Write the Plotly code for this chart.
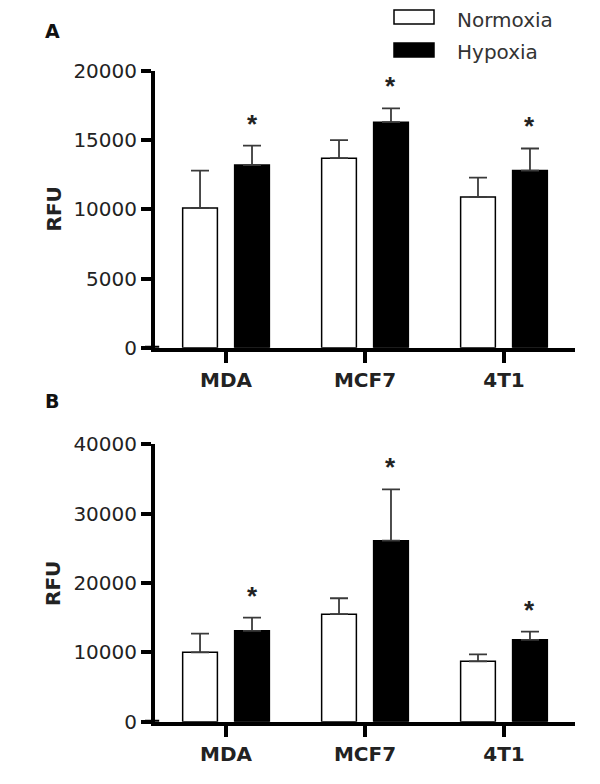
import plotly.graph_objects as go

categories = ["MDA", "MCF7", "4T1"]
series_names = ["Normoxia", "Hypoxia"]

# Panel A
a_normoxia = [10100, 13700, 10900]
a_normoxia_err = [2700, 1300, 1400]
a_hypoxia = [13200, 16300, 12800]
a_hypoxia_err = [1400, 1000, 1600]
a_sig = [True, True, True]
a_ticks = [0, 5000, 10000, 15000, 20000]

# Panel B
b_normoxia = [10000, 15500, 8700]
b_normoxia_err = [2700, 2300, 1000]
b_hypoxia = [13100, 26100, 11800]
b_hypoxia_err = [1900, 7400, 1200]
b_sig = [True, True, True]
b_ticks = [0, 10000, 20000, 30000, 40000]

W, H = 600, 784
FONT = "DejaVu Sans, Verdana, sans-serif"
STAR_FONT = "Arial, Liberation Sans, sans-serif"
xpos = list(range(len(categories)))

def px(x):
    return x / W

def py(y):
    return 1 - y / H

fig = go.Figure()

def add_panel(xa, ya, norm, norm_err, hyp, hyp_err):
    fig.add_trace(go.Bar(
        x=xpos, y=norm, name=series_names[0], width=0.25, offset=-0.312,
        marker=dict(color="white", line=dict(color="black", width=1.5)),
        error_y=dict(type="data", array=norm_err, arrayminus=[0]*len(norm),
                     symmetric=False, color="#3a3a3a", thickness=1.8, width=9),
        xaxis=xa, yaxis=ya, showlegend=False))
    fig.add_trace(go.Bar(
        x=xpos, y=hyp, name=series_names[1], width=0.25, offset=0.062,
        marker=dict(color="black", line=dict(color="black", width=1.5)),
        error_y=dict(type="data", array=hyp_err, arrayminus=[0]*len(hyp),
                     symmetric=False, color="#3a3a3a", thickness=1.8, width=9),
        xaxis=xa, yaxis=ya, showlegend=False))

add_panel("x", "y", a_normoxia, a_normoxia_err, a_hypoxia, a_hypoxia_err)
add_panel("x2", "y2", b_normoxia, b_normoxia_err, b_hypoxia, b_hypoxia_err)

X0, X1 = 155, 575
xdom = [px(X0), px(X1)]
ydomA = [py(347.7), py(71)]
ydomB = [py(721.7), py(444.3)]

def xaxis_cfg(anchor):
    return dict(domain=xdom, range=[-0.511, 2.511], anchor=anchor, automargin=False,
                tickmode="array", tickvals=xpos, ticktext=categories,
                showline=True, linecolor="black", linewidth=4,
                ticks="outside", ticklen=11, tickwidth=4, tickcolor="black",
                tickfont=dict(family=FONT, size=20, color="#222", weight="bold"),
                showgrid=False, zeroline=False, fixedrange=True)

def yaxis_cfg(anchor, dom, ticks):
    return dict(domain=dom, range=[0, ticks[-1]], anchor=anchor, automargin=False,
                tickmode="array", tickvals=ticks, ticktext=[str(t) for t in ticks],
                showline=True, linecolor="black", linewidth=4,
                ticks="outside", ticklen=10, tickwidth=4, tickcolor="black",
                tickfont=dict(family=FONT, size=20, color="#222"),
                showgrid=False, zeroline=False, fixedrange=True)

fig.update_layout(
    width=W, height=H, autosize=False,
    margin=dict(l=0, r=0, t=0, b=0, pad=0, autoexpand=False),
    paper_bgcolor="white", plot_bgcolor="white",
    barmode="overlay",
    xaxis=xaxis_cfg("y"), yaxis=yaxis_cfg("x", ydomA, a_ticks),
    xaxis2=xaxis_cfg("y2"), yaxis2=yaxis_cfg("x2", ydomB, b_ticks),
    showlegend=False,
)

# x-axis line extension to the left of the y-axis
for xr, yr in [("x", "y"), ("x2", "y2")]:
    fig.add_shape(type="line", xref=f"{xr} domain", yref=yr,
                  x0=-10 / (X1 - X0), x1=0.01, y0=0, y1=0,
                  line=dict(color="black", width=4))

# significance asterisks
for xr, yr, hyp, err, sig in [("x", "y", a_hypoxia, a_hypoxia_err, a_sig),
                              ("x2", "y2", b_hypoxia, b_hypoxia_err, b_sig)]:
    for i, s in enumerate(sig):
        if s:
            fig.add_annotation(x=xpos[i] + 0.187, y=hyp[i] + err[i], xref=xr, yref=yr,
                               text="<b>*</b>", showarrow=False, yanchor="middle",
                               yshift=22, font=dict(family=STAR_FONT, size=26, color="#222"))

# y-axis titles
for yc in [py(209.5), py(584)]:
    fig.add_annotation(x=px(53), y=yc, xref="paper", yref="paper", text="<b>RFU</b>",
                       textangle=-90, showarrow=False, xanchor="center", yanchor="middle",
                       font=dict(family=FONT, size=20, color="#222"))

# panel letters
for letter, yc in [("A", py(31.5)), ("B", py(400.5))]:
    fig.add_annotation(x=px(52), y=yc, xref="paper", yref="paper", text=f"<b>{letter}</b>",
                       showarrow=False, xanchor="center", yanchor="middle",
                       font=dict(family=FONT, size=19, color="#111"))

# legend
for name, fill, y0, y1, ty in [(series_names[0], "white", 10, 24, 19.5),
                               (series_names[1], "black", 43, 57, 52.5)]:
    fig.add_shape(type="rect", xref="paper", yref="paper",
                  x0=px(394), x1=px(434), y0=py(y1), y1=py(y0),
                  fillcolor=fill, line=dict(color="black", width=1.5))
    fig.add_annotation(x=px(455), y=py(ty), xref="paper", yref="paper",
                       text=name, showarrow=False, xanchor="left", yanchor="middle",
                       font=dict(family=FONT, size=20, color="#333"))

fig.write_html("out.html", config={"responsive": False, "displayModeBar": False},
               post_script="document.body.style.margin='0';")
